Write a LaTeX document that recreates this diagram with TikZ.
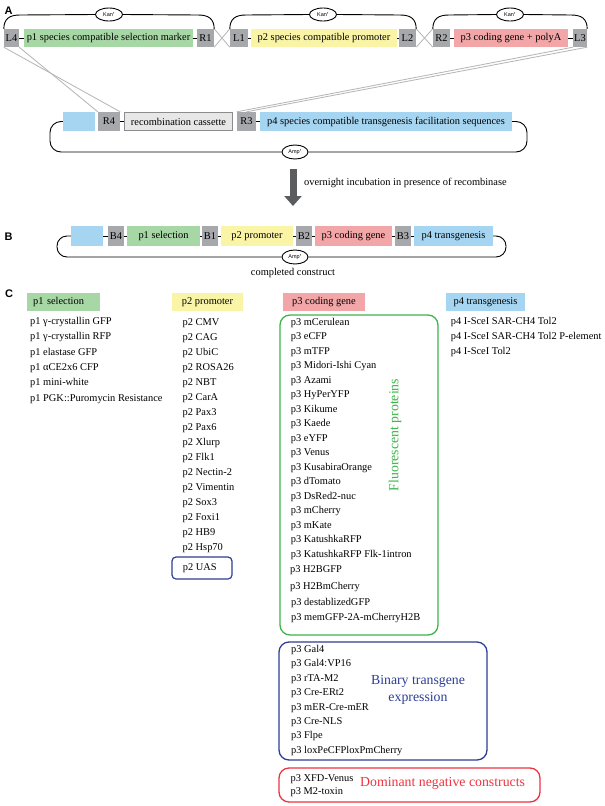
\documentclass[tikz,border=0pt]{standalone}
\usepackage{fontspec}
\setmainfont{Liberation Serif}
\newfontfamily\lsans{Liberation Sans}
\usetikzlibrary{arrows.meta,shapes.geometric}
\definecolor{cgreen}{HTML}{A7D7A5}
\definecolor{cyellow}{HTML}{F9F4A6}
\definecolor{cpink}{HTML}{F2A6A7}
\definecolor{cblue}{HTML}{A6D5F1}
\definecolor{cgray}{HTML}{A6A8AB}
\definecolor{clight}{HTML}{E7E7E7}
\definecolor{cborder}{HTML}{8C8C8C}
\definecolor{cline}{HTML}{B5B5B5}
\definecolor{fpgreen}{HTML}{3DB54A}
\definecolor{btblue}{HTML}{2D3E96}
\definecolor{dnred}{HTML}{EE3340}
\definecolor{arrowgray}{HTML}{5B5C5E}
\begin{document}
\begin{tikzpicture}[x=1pt,y=-1pt,
 every node/.style={inner sep=0pt},
 seg/.style={minimum height=18pt, font=\fontsize{10.4}{12}\selectfont},
 att/.style={seg, fill=cgray},
 tx/.style={font=\fontsize{10.4}{12}\selectfont, anchor=west, text height=7pt, text depth=2pt},
 res/.style={ellipse, draw, fill=white, line width=0.9pt, minimum width=27pt, minimum height=13pt, font=\lsans\fontsize{5.5}{6}\selectfont},
 bb/.style={line width=0.9pt},
 gapline/.style={line width=0.6pt},
 xline/.style={draw=cline, line width=0.8pt},
 panel/.style={font=\lsans\bfseries\fontsize{11}{12}\selectfont},
 grp/.style={rounded corners=10pt, line width=1.3pt},
 big/.style={font=\fontsize{13.8}{17}\selectfont}
]
\useasboundingbox (0,0) rectangle (605,806);
\fill[white] (0,0) rectangle (605,806);

% ---------- Panel A ----------
\node[panel] (labA) at (8.5,11) {A};
% top row
\node[att, minimum width=15pt] (L4) at (11.5,38) {L4};
\node[seg, fill=cgreen, minimum width=169pt] (p1) at (108.5,38) {p1 species compatible selection marker};
\node[att, minimum width=17pt] (R1) at (205.5,38) {R1};
\node[att, minimum width=18pt] (L1) at (239,38) {L1};
\node[seg, fill=cyellow, minimum width=146pt] (p2) at (324,38) {p2 species compatible promoter};
\node[att, minimum width=17pt] (L2) at (407.5,38) {L2};
\node[att, minimum width=17pt] (R2) at (441.5,38) {R2};
\node[seg, fill=cpink, minimum width=114pt] (p3) at (511,38) {p3 coding gene + polyA};
\node[att, minimum width=14pt] (L3) at (580,38) {L3};
\draw[gapline] (L4) -- (p1);
\draw[gapline] (p1) -- (R1);
\draw[gapline] (L1) -- (p2);
\draw[gapline] (p2) -- (L2);
\draw[gapline] (R2) -- (p3);
\draw[gapline] (p3) -- (L3);
% crossings
\draw[xline] (R1.north east) -- (L1.south west);
\draw[xline] (R1.south east) -- (L1.north west);
\draw[xline] (L2.north east) -- (R2.south west);
\draw[xline] (L2.south east) -- (R2.north west);
% Kan arcs
\node[res] (kan1) at (109,14.5) {Kan\textsuperscript{r}};
\node[res] (kan2) at (323,14.5) {Kan\textsuperscript{r}};
\node[res] (kan3) at (510,14.5) {Kan\textsuperscript{r}};
\draw[bb] (L4.north west) .. controls (4,19) and (9,15) .. (20,15) -- (kan1.west);
\draw[bb] (kan1.east) -- (198,15) .. controls (209,15) and (214,19) .. (R1.north east);
\draw[bb] (L1.north west) .. controls (230,19) and (235,15) .. (246,15) -- (kan2.west);
\draw[bb] (kan2.east) -- (400,15) .. controls (411,15) and (416,19) .. (L2.north east);
\draw[bb] (R2.north west) .. controls (433,19) and (438,15) .. (449,15) -- (kan3.west);
\draw[bb] (kan3.east) -- (571,15) .. controls (582,15) and (587,19) .. (L3.north east);
% lower row
\node[seg, fill=cblue, minimum width=32pt, minimum height=19pt] (bl0) at (79,121.5) {};
\node[att, minimum width=22pt, minimum height=19pt] (R4) at (109,121.5) {R4};
\node[seg, fill=clight, draw=cborder, line width=1pt, minimum width=108pt, minimum height=18pt] (cass) at (178.5,121.5) {recombination cassette};
\node[att, minimum width=19pt, minimum height=19pt] (R3) at (246.5,121.5) {R3};
\node[seg, fill=cblue, minimum width=252pt, minimum height=19pt] (p4) at (386,121.5) {p4 species compatible transgenesis facilitation sequences};
\draw[gapline] (R4) -- (cass);
\draw[gapline] (R3) -- (p4);
% recombination lines
\draw[xline] (L4.south west) -- (R4.north east);
\draw[xline] (L4.south east) -- (R4.north west);
\draw[xline] (L3.south west) -- (R3.north west);
\draw[xline] (L3.south east) -- (R3.north);
% backbone
\node[res, minimum width=26pt, minimum height=14pt] (amp1) at (295,152) {Amp\textsuperscript{r}};
\draw[bb, rounded corners=11pt] (bl0.west) -- (50,121.5) -- (50,152) -- (amp1.west);
\draw[bb, rounded corners=11pt] (amp1.east) -- (527,152) -- (527,121.5) -- (p4.east);

% arrow
\coordinate (arT) at (293,169);
\coordinate (arB) at (293,206);
\draw[arrowgray, line width=7pt, -{Triangle[width=17pt,length=10pt]}] (arT) -- (arB);
\node[tx] (ovn) at (304,183) {overnight incubation in presence of recombinase};

% ---------- Panel B ----------
\node[panel] (labB) at (8.5,237) {B};
\node[seg, fill=cblue, minimum width=32pt, minimum height=20pt] (bl1) at (87,236) {};
\node[att, minimum width=16pt, minimum height=20pt] (B4) at (116,236) {B4};
\node[seg, fill=cgreen, minimum width=73pt, minimum height=20pt] (s1) at (163.5,236) {p1 selection};
\node[att, minimum width=16pt, minimum height=20pt] (B1) at (210,236) {B1};
\node[seg, fill=cyellow, minimum width=72pt, minimum height=20pt] (s2) at (257,236) {p2 promoter};
\node[att, minimum width=16pt, minimum height=20pt] (B2) at (304,236) {B2};
\node[seg, fill=cpink, minimum width=77pt, minimum height=20pt] (s3) at (353.5,236) {p3 coding gene};
\node[att, minimum width=16pt, minimum height=20pt] (B3) at (403,236) {B3};
\node[seg, fill=cblue, minimum width=79pt, minimum height=20pt] (s4) at (453.5,236) {p4 transgenesis};
\draw[gapline] (bl1) -- (B4);
\draw[gapline] (B4) -- (s1);
\draw[gapline] (s1) -- (B1);
\draw[gapline] (B1) -- (s2);
\draw[gapline] (s2) -- (B2);
\draw[gapline] (B2) -- (s3);
\draw[gapline] (s3) -- (B3);
\draw[gapline] (B3) -- (s4);
\node[res, minimum width=26pt, minimum height=14pt] (amp2) at (295,257) {Amp\textsuperscript{r}};
\draw[bb, rounded corners=10pt] (bl1.west) -- (57,236) -- (57,257) -- (amp2.west);
\draw[bb, rounded corners=10pt] (amp2.east) -- (506,257) -- (506,236) -- (s4.east);
\node[font=\fontsize{10.4}{12}\selectfont] (cc) at (293,273) {completed construct};

% ---------- Panel C ----------
\node[panel] (labC) at (9,294) {C};
\node[seg, fill=cgreen, anchor=west, text width=61pt, inner xsep=6pt, align=left] (h1) at (27,302) {p1 selection};
\node[seg, fill=cyellow, minimum width=71pt] (h2) at (207.5,302) {p2 promoter};
\node[seg, fill=cpink, minimum width=82pt] (h3) at (324,302) {p3 coding gene};
\node[seg, fill=cblue, minimum width=79pt] (h4) at (485.5,302) {p4 transgenesis};

\foreach \t [count=\i] in {γ-crystallin GFP, γ-crystallin RFP, elastase GFP, αCE2x6 CFP, mini-white, PGK::Puromycin Resistance}
  \node[tx] (pa\i) at (30,{322+15.3*(\i-1)}) {p1 \t};

\foreach \t [count=\i] in {CMV, CAG, UbiC, ROSA26, NBT, CarA, Pax3, Pax6, Xlurp, Flk1, Nectin-2, Vimentin, Sox3, Foxi1, HB9, Hsp70}
  \node[tx] (pb\i) at (182.5,{322.7+15*(\i-1)}) {p2 \t};
\node[draw=btblue, rounded corners=4pt, line width=1.2pt, minimum width=60pt, minimum height=22pt] (uasbox) at (202,568) {};
\node[tx] (uas) at (182.7,567.5) {p2 UAS};

\node[draw=fpgreen, grp, minimum width=158pt, minimum height=320pt] (fpbox) at (359,475) {};
\foreach \t [count=\i] in {mCerulean, eCFP, mTFP, Midori-Ishi Cyan, Azami, HyPerYFP, Kikume, Kaede, eYFP, Venus, KusabiraOrange, dTomato, DsRed2-nuc, mCherry, mKate, KatushkaRFP, KatushkaRFP Flk-1intron}
  \node[tx] (pc\i) at (290.7,{322.7+14.5*(\i-1)}) {p3 \t};
\node[tx] (pc18) at (290,570) {p3 H2BGFP};
\node[tx] (pc19) at (290,587) {p3 H2BmCherry};
\node[tx] (pc20) at (291,603) {p3 destablizedGFP};
\node[tx] (pc21) at (291,618) {p3 memGFP-2A-mCherryH2B};
\node[big, text=fpgreen, rotate=90] (fplab) at (395,435) {Fluorescent proteins};

\node[draw=btblue, grp, minimum width=208pt, minimum height=118pt] (btbox) at (383,701) {};
\foreach \t [count=\i] in {Gal4, Gal4:VP16, rTA-M2, Cre-ERt2, mER-Cre-mER, Cre-NLS, Flpe, loxPeCFPloxPmCherry}
  \node[tx] (pd\i) at (291,{650+14.4*(\i-1)}) {p3 \t};
\node[big, text=btblue, align=center] (btlab) at (418,689.5) {Binary transgene\\expression};

\node[draw=dnred, grp, minimum width=261pt, minimum height=34pt] (dnbox) at (409.5,785) {};
\node[tx] (pe1) at (290.5,779) {p3 XFD-Venus};
\node[tx] (pe2) at (290.5,792) {p3 M2-toxin};
\node[big, text=dnred, anchor=west] (dnlab) at (360,783) {Dominant negative constructs};

\foreach \t [count=\i] in {I-SceI SAR-CH4 Tol2, I-SceI SAR-CH4 Tol2 P-element, I-SceI Tol2}
  \node[tx] (pf\i) at (450.7,{321.7+15*(\i-1)}) {p4 \t};
\end{tikzpicture}
\end{document}
